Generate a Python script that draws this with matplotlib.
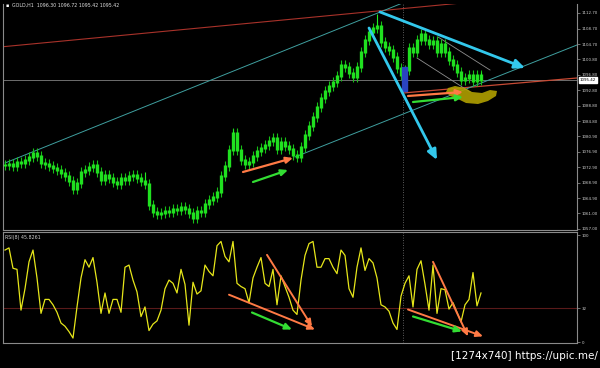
import matplotlib
matplotlib.use("Agg")
import matplotlib.pyplot as plt
from matplotlib.patches import Polygon, Rectangle
import numpy as np

# ---------------- data ----------------
closes = [1073.50, 1073.76, 1073.25, 1074.28, 1074.02, 1074.79, 1075.57, 1076.60, 1075.82, 1074.02,
          1073.76, 1073.25, 1072.73, 1072.21, 1071.44, 1070.67, 1069.38, 1067.31, 1068.86, 1071.70,
          1072.21, 1072.99, 1073.50, 1071.70, 1069.64, 1070.93, 1070.15, 1069.12, 1068.60, 1070.15,
          1069.64, 1070.67, 1070.93, 1070.15, 1069.38, 1068.60, 1063.19, 1061.38, 1060.87, 1061.13,
          1061.64, 1061.38, 1062.16, 1061.90, 1062.67, 1062.16, 1061.13, 1059.84, 1061.64, 1061.38,
          1063.45, 1064.48, 1065.25, 1066.54, 1070.67, 1073.25, 1077.37, 1081.76, 1077.37, 1074.79,
          1073.76, 1074.28, 1075.82, 1077.11, 1077.89, 1078.66, 1079.69, 1080.47, 1077.63, 1079.43,
          1078.40, 1077.63, 1076.08, 1075.57, 1078.15, 1081.24, 1083.56, 1085.88, 1088.46, 1090.78,
          1092.59, 1093.88, 1094.91, 1096.45, 1099.29, 1098.78, 1097.23, 1096.20, 1098.78, 1102.64,
          1105.74, 1107.80, 1108.83, 1109.35, 1105.22, 1103.93, 1103.16, 1101.35, 1098.52, 1096.71,
          1098.00, 1103.67, 1102.64, 1105.74, 1107.28, 1105.74, 1104.71, 1105.48, 1102.64, 1104.71,
          1102.64, 1100.58, 1099.29, 1097.49, 1095.42, 1095.94, 1096.71, 1095.16, 1096.71, 1095.42]

spike_idx = [35, 57, 93, 119]
spike_high = [1071.7, 1082.9, 1112.5, 1097.6]

rsi = [86, 88, 69, 68, 30, 50, 75, 86, 60, 27,
       40, 40, 35, 28, 18, 15, 10, 4, 33, 60,
       77, 70, 79, 56, 27, 46, 27, 40, 40, 28,
       70, 72, 58, 47, 24, 33, 11, 17, 20, 30,
       50, 58, 55, 46, 68, 54, 16, 56, 45, 48,
       72, 66, 62, 90, 94, 80, 75, 94, 55, 52,
       50, 37, 60, 70, 79, 55, 52, 68, 35, 62,
       52, 42, 30, 26, 58, 81, 92, 94, 70, 70,
       78, 78, 70, 64, 86, 81, 50, 42, 70, 88,
       67, 78, 74, 60, 35, 33, 29, 18, 12, 43,
       55, 62, 33, 68, 76, 54, 30, 72, 27, 50,
       49, 31, 37, 28, 19, 35, 40, 65, 34, 46]

price_ticks = [1112.70, 1108.70, 1104.70, 1100.80, 1096.80, 1092.80, 1088.80, 1084.80,
               1080.90, 1076.90, 1072.90, 1068.90, 1064.90, 1061.00, 1057.00]
rsi_ticks = [100, 32, 0]
last_price = 1095.42
rsi_level = 32
header = "GOLD,H1  1096.30 1096.72 1095.42 1095.42"
rsi_header = "RSI(8) 45.8261"
separator_idx = 99.5

# drawn objects (bar index, price)
red_long = ([-1.25, 143], [1103.93, 1118.12])
red_short = ([99.5, 143], [1092.07, 1095.94])
teal_upper = ([0, 101.25], [1074.02, 1116.05])
teal_lower = ([72.5, 143], [1075.57, 1104.45])
gray_ch1 = ([103, 116.25], [1101.10, 1092.33])
gray_ch2 = ([108.25, 121.25], [1106.51, 1098.00])
cyan_arrows = [((93.75, 1112.96), (130, 1098.52)), ((91, 1108.83), (108, 1074.79))]
orange_price = [((59.5, 1071.70), (72, 1075.31)), ((100.75, 1091.30), (114.5, 1092.33))]
green_price = [((62, 1069.12), (70.75, 1072.21)), ((102, 1089.75), (114.5, 1091.04))]
blob_x = [110.75, 112.5, 115, 116.75, 119.25, 121.25, 123, 122.75, 120.75, 118.25, 115.25, 113.25, 111.25, 110.25]
blob_y = [1093.36, 1093.88, 1093.36, 1092.33, 1092.07, 1092.84, 1092.59, 1091.30, 1090.01, 1089.23,
          1089.49, 1090.52, 1091.30, 1092.33]
blue_box = (99.25, 1092.59, 1.25, 6.18)
orange_rsi = [((56, 44.4), (77.5, 12.0)), ((65.5, 81.5), (76.75, 14.8)),
              ((100.75, 30.6), (119.5, 5.6)), ((107, 75), (115.75, 5.6))]
green_rsi = [((61.75, 27.8), (71.75, 12.0)), ((102, 24.1), (114.25, 10.2))]

# ---------------- figure ----------------
W, H = 600, 368
fig = plt.figure(figsize=(W / 100, H / 100), dpi=100, facecolor="black")

def frac(x0, y0, x1, y1):
    return [x0 / W, 1 - y1 / H, (x1 - x0) / W, (y1 - y0) / H]

ax = fig.add_axes(frac(3, 4, 577, 230))
ax2 = fig.add_axes(frac(3, 232, 577, 343))
for a in (ax, ax2):
    a.set_facecolor("black")
    for s in a.spines.values():
        s.set_color("#8a8a8a")
        s.set_linewidth(0.8)
    a.spines["top"].set_visible(False)
    a.set_xlim(-0.5, 143)
    a.set_xticks([])
    a.yaxis.tick_right()
    a.tick_params(axis="y", colors="#9a9a9a", labelcolor="#d0d0d0", labelsize=2.9,
                  length=2, width=0.5, pad=1.2)
ax2.spines["top"].set_visible(True)

ax.set_ylim(1056.74, 1115.02)
ax.set_yticks(price_ticks)
ax.set_yticklabels([f"{v:.2f}" for v in price_ticks])
ax2.set_ylim(-0.6, 102.8)
ax2.set_yticks(rsi_ticks)
ax2.set_yticklabels([str(v) for v in rsi_ticks])

# candles
n = len(closes)
idx = np.arange(n)
opens = [closes[0]] + closes[:-1]
lo = np.minimum(opens, closes)
hi = np.maximum(opens, closes)
ax.vlines(idx, lo - 1.4, hi + 1.4, color="#16c016", lw=0.8, zorder=3)
ax.vlines(idx, lo - 0.3, hi + 0.3, color="#20e020", lw=2.4, zorder=3)
for i, h in zip(spike_idx, spike_high):
    ax.vlines(i, closes[i], h, color="#22ee22", lw=0.8, zorder=3)

# lines
ax.axhline(last_price, color="#6e6e6e", lw=0.7, zorder=1)
ax.plot(*red_long, color="#a8322a", lw=0.8, zorder=2)
ax.plot(*red_short, color="#c84a34", lw=0.9, zorder=2)
ax.plot(*teal_upper, color="#3f9f9f", lw=0.7, zorder=2)
ax.plot(*teal_lower, color="#3f9f9f", lw=0.7, zorder=2)
ax.plot(*gray_ch1, color="#8f8f8f", lw=0.6, zorder=2)
ax.plot(*gray_ch2, color="#8f8f8f", lw=0.6, zorder=2)
for a in (ax, ax2):
    a.axvline(separator_idx, color="#7a7a7a", lw=0.6, ls=(0, (1, 2)), zorder=1)

ax.add_patch(Rectangle(blue_box[:2], blue_box[2], blue_box[3], color="#2a44c0", zorder=4))
ax.add_patch(Polygon(np.column_stack([blob_x, blob_y]), closed=True, facecolor="#b0a000",
                     edgecolor="none", alpha=0.9, zorder=5))

def arrow(a, start, end, color, lw, head):
    a.annotate("", xy=end, xytext=start,
               arrowprops=dict(arrowstyle=f"-|>,head_length={head},head_width={head*0.45}",
                               color=color, lw=lw, shrinkA=0, shrinkB=0), zorder=6)

for s, e in cyan_arrows:
    arrow(ax, s, e, "#33c8ec", 2.0, 0.6)
for s, e in orange_price:
    arrow(ax, s, e, "#ff7a45", 1.6, 0.4)
for s, e in green_price:
    arrow(ax, s, e, "#33dd33", 1.6, 0.4)

# RSI
ax2.axhline(rsi_level, color="#5a1a1a", lw=0.8, zorder=1)
ax2.plot(idx, rsi, color="#e6e61a", lw=0.9, zorder=3)
for s, e in orange_rsi:
    arrow(ax2, s, e, "#ff7a45", 1.4, 0.4)
for s, e in green_rsi:
    arrow(ax2, s, e, "#33dd33", 1.6, 0.4)

# texts
fig.text(6 / W, 1 - 5.5 / H, "\u25aa", color="white", fontsize=3.5, va="center")
fig.text(12 / W, 1 - 5.5 / H, header, color="#e0e0e0", fontsize=3.4, va="center")
fig.text(5 / W, 1 - 237 / H, rsi_header, color="#d0d0d0", fontsize=3.4, va="center")
# last price box
ax.text(1.005, last_price, f"{last_price:.2f}", transform=ax.get_yaxis_transform(),
        fontsize=2.9, color="black", va="center", ha="left",
        bbox=dict(boxstyle="square,pad=0.15", fc="white", ec="white"), zorder=10)
fig.text(598 / W, 1 - 356 / H, "[1274x740] https://upic.me/", color="white",
         fontsize=7.5, ha="right", va="center")

fig.savefig("out.png", dpi=100, facecolor="black")
